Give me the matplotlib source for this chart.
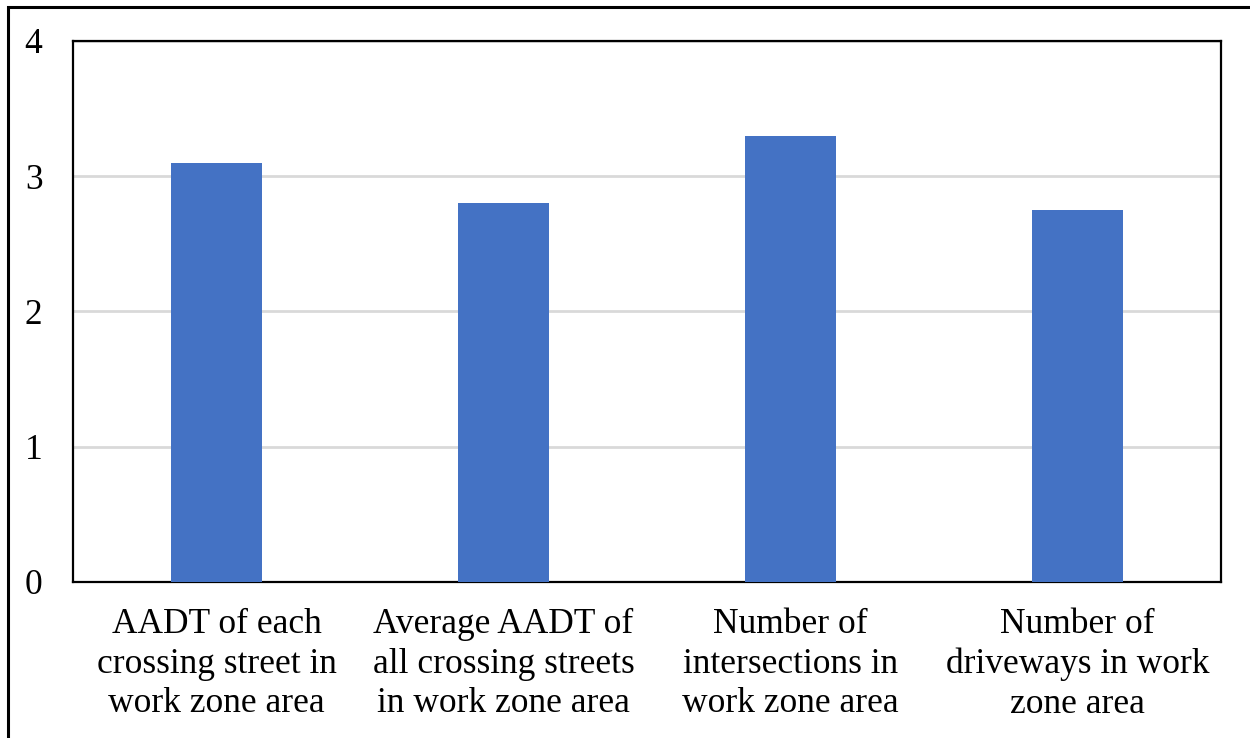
import matplotlib
matplotlib.use("Agg")
import matplotlib.pyplot as plt
from matplotlib.patches import Rectangle

# Factor scores per work zone variable
categories = [
    "AADT of each\ncrossing street in\nwork zone area",
    "Average AADT of\nall crossing streets\nin work zone area",
    "Number of\nintersections in\nwork zone area",
    "Number of\ndriveways in work\nzone area",
]
values = [3.1, 2.8, 3.3, 2.75]
y_ticks = [0, 1, 2, 3, 4]

plt.rcParams['font.family'] = ['Liberation Serif', 'DejaVu Serif']

fig = plt.figure(figsize=(12.5, 7.38), dpi=100)
W, H = 1250, 738
ax = fig.add_axes([73 / W, 1 - 582 / H, (1221 - 73) / W, (582 - 41) / H])

x = range(len(categories))
ax.bar(x, values, width=0.317, color="#4472C4", zorder=3)

ax.set_xlim(-0.5, len(categories) - 0.5)
ax.set_ylim(0, 4)
ax.set_yticks(y_ticks)
ax.set_xticks(list(x))
ax.set_xticklabels(categories, fontsize=25.5, linespacing=1.25)
ax.tick_params(axis='y', labelsize=25.5, length=0, pad=22)
ax.tick_params(axis='x', length=0, pad=19)

ax.grid(axis='y', color="#d9d9d9", linewidth=2, zorder=0)
for s in ax.spines.values():
    s.set_linewidth(1.6)
    s.set_color("black")

# border around the whole chart
fig.patches.append(Rectangle((8 / W, -0.05), 1.1, 1 - 7 / H + 0.05,
                             transform=fig.transFigure, fill=False,
                             edgecolor="black", linewidth=2.2))

fig.savefig("out.png", dpi=100)
